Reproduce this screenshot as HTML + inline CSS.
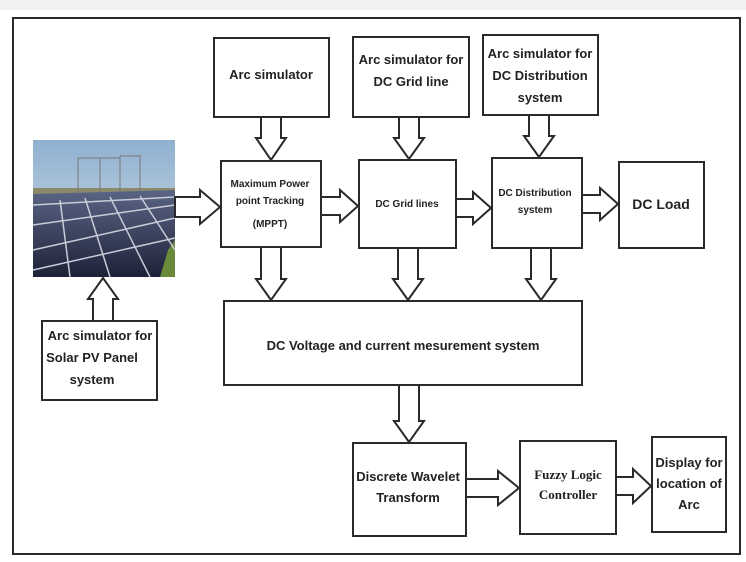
<!DOCTYPE html>
<html><head><meta charset="utf-8"><style>
html,body{margin:0;padding:0;background:#fff;}
svg{display:block}
text{font-family:"Liberation Sans",sans-serif;font-weight:bold;fill:#222;}
</style></head><body>
<svg width="746" height="562" viewBox="0 0 746 562" xmlns="http://www.w3.org/2000/svg">
<rect x="0" y="0" width="746" height="562" fill="#fff"/>
<rect x="0" y="0" width="746" height="10" fill="#f2f2f2"/>
<g fill="none" stroke="#2a2a2a" stroke-width="2">
<rect x="13" y="18" width="727" height="536"/>
<rect x="214" y="38" width="115" height="79"/>
<rect x="353" y="37" width="116" height="80"/>
<rect x="483" y="35" width="115" height="80"/>
<rect x="221" y="161" width="100" height="86"/>
<rect x="359" y="160" width="97" height="88"/>
<rect x="492" y="158" width="90" height="90"/>
<rect x="619" y="162" width="85" height="86"/>
<rect x="42" y="321" width="115" height="79"/>
<rect x="224" y="301" width="358" height="84"/>
<rect x="353" y="443" width="113" height="93"/>
<rect x="520" y="441" width="96" height="93"/>
<rect x="652" y="437" width="74" height="95"/>
</g>
<!-- solar image -->
<defs><linearGradient id="sky" x1="0" y1="0" x2="0" y2="1"><stop offset="0" stop-color="#8fb0d0"/><stop offset="1" stop-color="#d7e2ea"/></linearGradient>
<linearGradient id="pn" x1="0" y1="0" x2="0" y2="1"><stop offset="0" stop-color="#5a6585"/><stop offset="1" stop-color="#1e2238"/></linearGradient></defs>
<rect x="33" y="140" width="142" height="137" fill="url(#sky)"/>
<rect x="33" y="188" width="142" height="6" fill="#8a8a6a"/>
<g stroke="#777" stroke-width="1" fill="none"><path d="M78 193V158M100 193V158M120 193V156M140 193V155M78 158H100M100 158H120M120 156H140"/></g>
<polygon points="33,194 175,190 175,277 33,277" fill="url(#pn)"/>
<polygon points="168,250 175,240 175,277 160,277" fill="#6a8a3a"/>
<g stroke="#c8ccd8" stroke-width="1.5" fill="none">
<path d="M33 205L175 197M33 225L175 205M33 250L175 218M33 270L175 238"/>
<path d="M60 200L70 277M85 198L110 277M110 197L150 277M140 196L175 250"/>
</g>
<!-- arrows -->
<g fill="#fff" stroke="#2a2a2a" stroke-width="2" stroke-linejoin="miter">
<polygon points="261,117 281,117 281,138 286,138 271,160 256,138 261,138"/>
<polygon points="399,117 419,117 419,138 424,138 409,159 394,138 399,138"/>
<polygon points="529,115 549,115 549,136 554,136 539,157 524,136 529,136"/>
<polygon points="261,247 281,247 281,279 286,279 271,300 256,279 261,279"/>
<polygon points="398,248 418,248 418,279 423,279 408,300 393,279 398,279"/>
<polygon points="531,248 551,248 551,279 556,279 541,300 526,279 531,279"/>
<polygon points="399,385 419,385 419,421 424,421 409,442 394,421 399,421"/>
<polygon points="93,321 113,321 113,299 118,299 103,278 88,299 93,299"/>
<polygon points="175,197 200,197 200,190 220,207 200,224 200,217 175,217"/>
<polygon points="321,197 340,197 340,190 358,206 340,222 340,215 321,215"/>
<polygon points="456,199 473,199 473,192 491,208 473,224 473,217 456,217"/>
<polygon points="582,195 600,195 600,188 618,204 600,220 600,213 582,213"/>
<polygon points="466,479 498,479 498,471 519,488 498,505 498,497 466,497"/>
<polygon points="616,477 633,477 633,469 651,486 633,503 633,495 616,495"/>
</g>
<!-- text -->
<g font-size="13" text-anchor="middle">
<text x="271" y="79">Arc  simulator</text>
<text x="411" y="64">Arc  simulator for</text>
<text x="411" y="86">DC Grid line</text>
<text x="540" y="58">Arc  simulator for</text>
<text x="540" y="80">DC Distribution</text>
<text x="540" y="102">system</text>
<text x="100" y="340">Arc  simulator for</text>
<text x="92" y="362">Solar PV Panel</text>
<text x="92" y="384">system</text>
<text x="661" y="209" font-size="14">DC Load</text>
<text x="403" y="350" font-size="13">DC Voltage and current mesurement system</text>
<text x="408" y="481">Discrete Wavelet</text>
<text x="408" y="502">Transform</text>
<text x="689" y="467">Display for</text>
<text x="689" y="488">location of</text>
<text x="689" y="509">Arc</text>
</g>
<g font-size="10" text-anchor="middle">
<text x="270" y="187">Maximum Power</text>
<text x="270" y="204">point Tracking</text>
<text x="270" y="227">(MPPT)</text>
<text x="407" y="207">DC Grid lines</text>
<text x="535" y="196">DC Distribution</text>
<text x="535" y="213">system</text>
</g>
<g font-size="13" text-anchor="middle" style="font-family:'Liberation Serif',serif">
<text x="568" y="479" style="font-family:'Liberation Serif',serif">Fuzzy Logic</text>
<text x="568" y="499" style="font-family:'Liberation Serif',serif">Controller</text>
</g>
</svg>
</body></html>
